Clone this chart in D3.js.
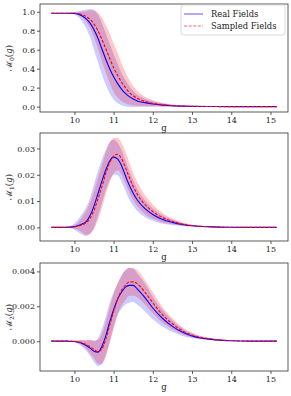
<!DOCTYPE html>
<html>
<head>
<meta charset="utf-8">
<script src="https://cdn.jsdelivr.net/npm/d3@7"></script>
<style>
  body { margin: 0; background: #fff; }
  svg text { font-family: "DejaVu Serif", serif; fill: #222; }
</style>
</head>
<body>
<svg id="chart"></svg>
<script>
const width = 291;
const height = 396;

// g grid shared by all panels
const gVals = [9.41, 9.6, 9.8, 10.0, 10.1, 10.2, 10.3, 10.4, 10.5, 10.6, 10.7, 10.8, 10.9, 11.0, 11.1, 11.2, 11.3, 11.4, 11.5, 11.6, 11.8, 12.0, 12.25, 12.5, 12.75, 13.0, 13.5, 14.0, 14.5, 15.16];

// M0
const m0Real = [0.985, 0.985, 0.985, 0.983, 0.975, 0.955, 0.925, 0.88, 0.81, 0.72, 0.61, 0.5, 0.4, 0.315, 0.245, 0.185, 0.14, 0.105, 0.08, 0.06, 0.042, 0.028, 0.016, 0.009, 0.005, 0.0025, 0.0006, 0.0001, 0, 0];
const m0RealSd = [0.001, 0.001, 0.002, 0.012, 0.03, 0.06, 0.1, 0.15, 0.21, 0.25, 0.27, 0.27, 0.26, 0.24, 0.21, 0.17, 0.14, 0.11, 0.085, 0.065, 0.042, 0.028, 0.017, 0.01, 0.006, 0.003, 0.001, 0.0005, 0.0002, 0];
const m0Samp = [0.985, 0.985, 0.985, 0.984, 0.98, 0.97, 0.95, 0.92, 0.87, 0.8, 0.71, 0.61, 0.51, 0.41, 0.33, 0.26, 0.2, 0.15, 0.115, 0.088, 0.055, 0.035, 0.02, 0.011, 0.006, 0.003, 0.0008, 0.0001, 0, 0];
const m0SampSd = [0.001, 0.001, 0.002, 0.006, 0.015, 0.03, 0.055, 0.095, 0.14, 0.19, 0.23, 0.25, 0.26, 0.255, 0.235, 0.2, 0.165, 0.13, 0.1, 0.08, 0.05, 0.033, 0.02, 0.012, 0.007, 0.004, 0.0015, 0.0005, 0.0002, 0];

// M1
const m1Real = [0, 0, 0.00005, 0.0003, 0.0007, 0.0013, 0.0022, 0.0045, 0.0082, 0.0128, 0.0175, 0.0218, 0.0252, 0.0267, 0.026, 0.0235, 0.0197, 0.016, 0.013, 0.0105, 0.0071, 0.0049, 0.003, 0.0019, 0.0011, 0.0006, 0.0002, 0.00005, 0, 0];
const m1RealSd = [0, 0, 0.0002, 0.0012, 0.0025, 0.004, 0.0055, 0.0068, 0.0082, 0.0085, 0.0083, 0.0077, 0.0072, 0.0066, 0.0062, 0.006, 0.0058, 0.0054, 0.0048, 0.0042, 0.0032, 0.0024, 0.0016, 0.001, 0.0006, 0.0003, 0.0001, 0, 0, 0];
const m1Samp = [0, 0, 0.00003, 0.0002, 0.0005, 0.001, 0.0018, 0.0035, 0.0065, 0.0108, 0.0155, 0.0205, 0.0246, 0.0272, 0.0278, 0.0262, 0.0228, 0.019, 0.0155, 0.0127, 0.0087, 0.006, 0.0037, 0.0023, 0.0013, 0.0007, 0.0002, 0.00005, 0, 0];
const m1SampSd = [0, 0, 0.0001, 0.0006, 0.0015, 0.003, 0.0045, 0.006, 0.0072, 0.008, 0.0082, 0.008, 0.0076, 0.0068, 0.0062, 0.006, 0.006, 0.0057, 0.0052, 0.0046, 0.0036, 0.0027, 0.0018, 0.0011, 0.0007, 0.0004, 0.00015, 0, 0, 0];

// M2
const m2Real = [0, 0, 0, -0.00002, -0.00006, -0.00013, -0.00025, -0.0004, -0.00058, -0.00063, -0.0003, 0.0003, 0.0011, 0.0018, 0.0024, 0.0028, 0.0031, 0.0032, 0.0032, 0.003, 0.0025, 0.0019, 0.0013, 0.00085, 0.00052, 0.0003, 0.0001, 0.00002, 0, 0];
const m2RealSd = [0, 0, 0.00001, 0.00005, 0.0001, 0.0002, 0.0003, 0.00045, 0.0006, 0.0008, 0.001, 0.0011, 0.0011, 0.001, 0.0009, 0.00095, 0.001, 0.001, 0.00095, 0.0009, 0.0008, 0.00065, 0.00048, 0.00033, 0.00022, 0.00014, 0.00005, 0.00001, 0, 0];
const m2Samp = [0, 0, 0, -0.00001, -0.00004, -0.0001, -0.0002, -0.00032, -0.00048, -0.0006, -0.00045, 0.0001, 0.0009, 0.0017, 0.0024, 0.0029, 0.0032, 0.0034, 0.0034, 0.0033, 0.0028, 0.0022, 0.0015, 0.001, 0.0006, 0.00035, 0.00012, 0.00003, 0, 0];
const m2SampSd = [0, 0, 0.00001, 0.00003, 0.00008, 0.00015, 0.00025, 0.00038, 0.0005, 0.00068, 0.00088, 0.001, 0.00105, 0.001, 0.0009, 0.00085, 0.00085, 0.0008, 0.0008, 0.00078, 0.0007, 0.0006, 0.00045, 0.00032, 0.0002, 0.00013, 0.00005, 0.00001, 0, 0];

const xTicks = [10, 11, 12, 13, 14, 15];
const legendLabels = ["Real Fields", "Sampled Fields"];

const panels = [
  { sub: "0", real: m0Real, realSd: m0RealSd, samp: m0Samp, sampSd: m0SampSd, ticks: [0, 0.2, 0.4, 0.6, 0.8, 1.0], fmt: d3.format(".1f"), top: 4 },
  { sub: "1", real: m1Real, realSd: m1RealSd, samp: m1Samp, sampSd: m1SampSd, ticks: [0, 0.01, 0.02, 0.03], fmt: d3.format(".2f"), top: 133 },
  { sub: "2", real: m2Real, realSd: m2RealSd, samp: m2Samp, sampSd: m2SampSd, ticks: [0, 0.002, 0.004], fmt: d3.format(".3f"), top: 263 }
];

const left = 40, right = 288, panelH = 108;
const blue = "#0000ff", red = "#ff0000";

const svg = d3.select("#chart").attr("width", width).attr("height", height);

// matplotlib-like 5% margins
function padded(lo, hi) {
  const m = (hi - lo) * 0.05;
  return [lo - m, hi + m];
}

const x = d3.scaleLinear()
  .domain(padded(d3.min(gVals), d3.max(gVals)))
  .range([left, right]);

panels.forEach((p, k) => {
  const rows = gVals.map((g, i) => ({
    g: g,
    r: p.real[i], rLo: p.real[i] - p.realSd[i], rHi: p.real[i] + p.realSd[i],
    s: p.samp[i], sLo: p.samp[i] - p.sampSd[i], sHi: p.samp[i] + p.sampSd[i]
  }));
  const lo = d3.min(rows, d => Math.min(d.rLo, d.sLo));
  const hi = d3.max(rows, d => Math.max(d.rHi, d.sHi));
  const y = d3.scaleLinear().domain(padded(lo, hi)).range([p.top + panelH, p.top]);

  const g = svg.append("g");

  const areaR = d3.area().curve(d3.curveMonotoneX)
    .x(d => x(d.g)).y0(d => y(d.rLo)).y1(d => y(d.rHi));
  const areaS = d3.area().curve(d3.curveMonotoneX)
    .x(d => x(d.g)).y0(d => y(d.sLo)).y1(d => y(d.sHi));
  const lineR = d3.line().curve(d3.curveMonotoneX).x(d => x(d.g)).y(d => y(d.r));
  const lineS = d3.line().curve(d3.curveMonotoneX).x(d => x(d.g)).y(d => y(d.s));

  g.append("path").datum(rows).attr("d", areaR)
    .attr("fill", blue).attr("fill-opacity", 0.2);
  g.append("path").datum(rows).attr("d", areaS)
    .attr("fill", red).attr("fill-opacity", 0.22);
  g.append("path").datum(rows).attr("d", lineR)
    .attr("fill", "none").attr("stroke", blue).attr("stroke-width", 1.1);
  g.append("path").datum(rows).attr("d", lineS)
    .attr("fill", "none").attr("stroke", red).attr("stroke-width", 1.1)
    .attr("stroke-dasharray", "3,1.6");

  // frame
  g.append("rect")
    .attr("x", left).attr("y", p.top)
    .attr("width", right - left).attr("height", panelH)
    .attr("fill", "none").attr("stroke", "#333").attr("stroke-width", 0.8);

  // axes
  const xAxis = g.append("g")
    .attr("transform", `translate(0,${p.top + panelH})`)
    .call(d3.axisBottom(x).tickValues(xTicks).tickSize(3).tickPadding(2).tickFormat(d3.format("d")));
  const yAxis = g.append("g")
    .attr("transform", `translate(${left},0)`)
    .call(d3.axisLeft(y).tickValues(p.ticks).tickSize(3).tickPadding(2).tickFormat(p.fmt));
  [xAxis, yAxis].forEach(a => {
    a.select(".domain").remove();
    a.selectAll(".tick line").attr("stroke", "#333").attr("stroke-width", 0.8);
    a.selectAll(".tick text").style("font-family", "'DejaVu Serif', serif")
      .style("font-size", "8px").attr("fill", "#222");
  });

  // x label
  g.append("text")
    .attr("x", (left + right) / 2).attr("y", p.top + panelH + 19)
    .attr("text-anchor", "middle").style("font-size", "8.5px").text("g");

  // y label
  const yl = g.append("text")
    .attr("transform", `translate(12,${p.top + panelH / 2}) rotate(-90)`)
    .attr("text-anchor", "middle").style("font-size", "8.5px");
  yl.append("tspan").text("ℳ");
  yl.append("tspan").attr("dy", 1.5).style("font-size", "6px").text(p.sub);
  yl.append("tspan").attr("dy", -1.5).text("(");
  yl.append("tspan").style("font-style", "italic").text("g");
  yl.append("tspan").text(")");
});

// legend in the first panel
const lg = svg.append("g");
lg.append("rect")
  .attr("x", 181).attr("y", 5).attr("width", 104).attr("height", 30)
  .attr("rx", 2).attr("fill", "#fff").attr("fill-opacity", 0.8)
  .attr("stroke", "#d0d0d0").attr("stroke-width", 0.8);
legendLabels.forEach((lab, i) => {
  const yy = 14 + i * 12;
  lg.append("line")
    .attr("x1", 184).attr("x2", 203).attr("y1", yy).attr("y2", yy)
    .attr("stroke", i === 0 ? blue : red).attr("stroke-width", 1.1)
    .attr("stroke-opacity", 0.6)
    .attr("stroke-dasharray", i === 0 ? null : "3,1.6");
  lg.append("text")
    .attr("x", 211).attr("y", yy + 3)
    .style("font-size", "8.4px").text(lab);
});
</script>
</body>
</html>
